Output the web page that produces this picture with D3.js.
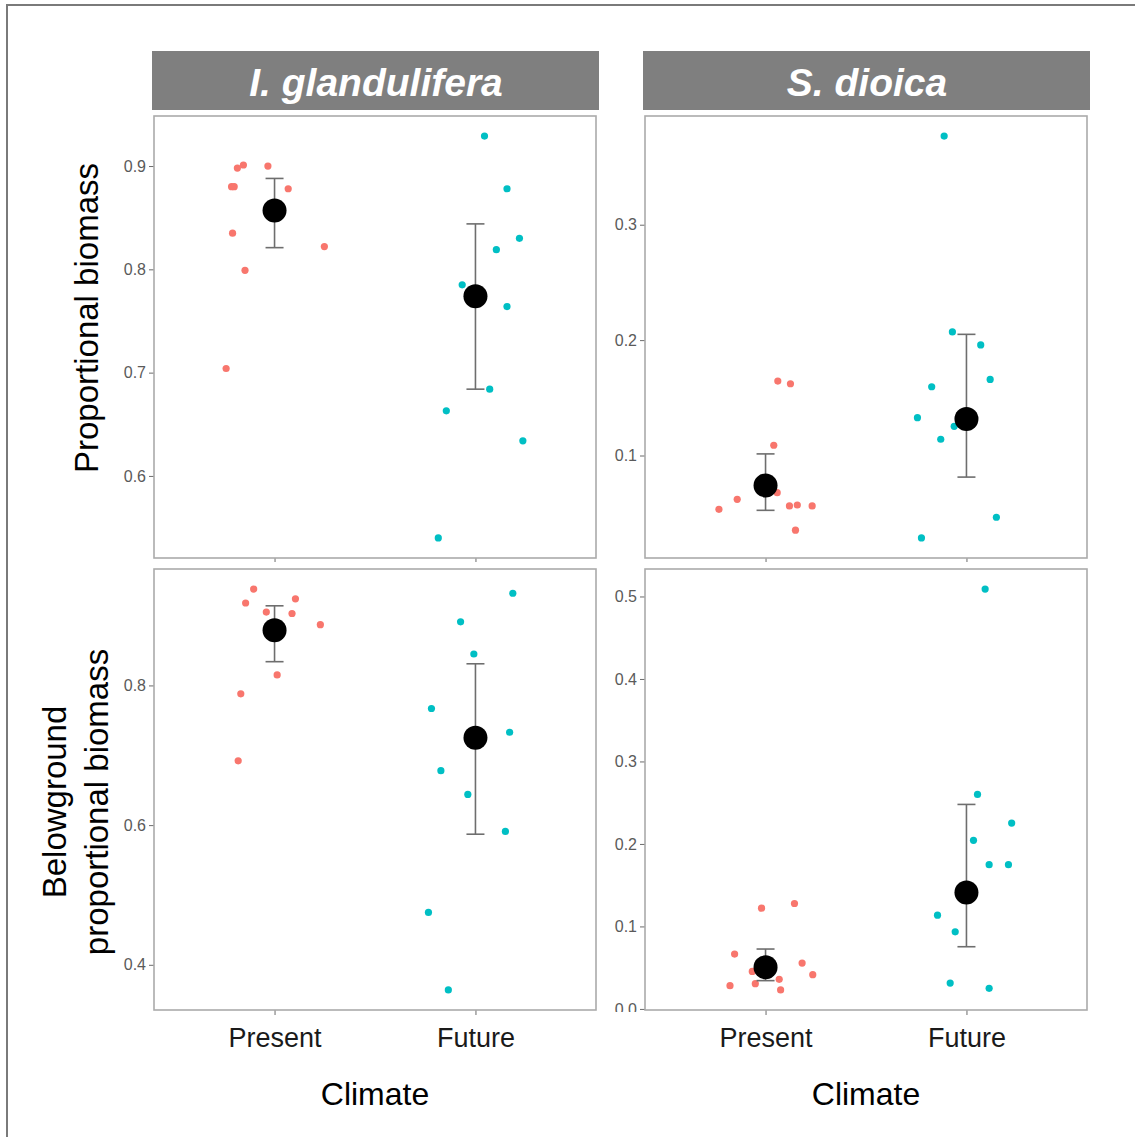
<!DOCTYPE html>
<html>
<head>
<meta charset="utf-8">
<script src="https://cdn.jsdelivr.net/npm/d3@7"></script>
<style>
  html, body { margin: 0; padding: 0; background: #ffffff; }
  svg { display: block; }
</style>
</head>
<body>
<svg id="chart" width="1135" height="1137"></svg>
<script>
// ---- data ----------------------------------------------------------------
const species = ["I. glandulifera", "S. dioica"];
const climates = ["Present", "Future"];
const rowTitles = [["Proportional biomass"], ["Belowground", "proportional biomass"]];

// I. glandulifera, proportional biomass
const glandPropPresent = [0.898, 0.901, 0.880, 0.880, 0.900, 0.878, 0.835, 0.822, 0.799, 0.704];
const glandPropPresentJitter = [-0.185, -0.155, -0.214, -0.201, -0.033, 0.068, -0.209, 0.248, -0.147, -0.241];
const glandPropFuture = [0.929, 0.878, 0.830, 0.819, 0.785, 0.764, 0.684, 0.663, 0.634, 0.540];
const glandPropFutureJitter = [0.045, 0.157, 0.219, 0.104, -0.066, 0.157, 0.071, -0.145, 0.236, -0.185];
const glandPropSummary = [[0.857, 0.821, 0.888], [0.774, 0.684, 0.844]]; // mean, lower, upper
const glandPropTicks = [0.6, 0.7, 0.8, 0.9];

// S. dioica, proportional biomass
const dioicaPropPresent = [0.1645, 0.1622, 0.1089, 0.0620, 0.0678, 0.0534, 0.0563, 0.0571, 0.0563, 0.0353];
const dioicaPropPresentJitter = [0.061, 0.124, 0.041, -0.141, 0.058, -0.232, 0.119, 0.158, 0.232, 0.149];
const dioicaPropFuture = [0.3768, 0.2071, 0.1958, 0.1596, 0.1659, 0.1328, 0.1253, 0.1141, 0.0465, 0.0286];
const dioicaPropFutureJitter = [-0.111, -0.070, 0.071, -0.173, 0.118, -0.244, -0.061, -0.128, 0.149, -0.224];
const dioicaPropSummary = [[0.0741, 0.0525, 0.1014], [0.1317, 0.0813, 0.2050]];
const dioicaPropTicks = [0.1, 0.2, 0.3];

// I. glandulifera, belowground proportional biomass
const glandBelowPresent = [0.938, 0.918, 0.924, 0.905, 0.903, 0.887, 0.815, 0.788, 0.692];
const glandBelowPresentJitter = [-0.104, -0.144, 0.104, -0.041, 0.087, 0.228, 0.013, -0.168, -0.181];
const glandBelowFuture = [0.932, 0.891, 0.845, 0.767, 0.733, 0.678, 0.644, 0.591, 0.475, 0.364];
const glandBelowFutureJitter = [0.186, -0.074, -0.008, -0.219, 0.170, -0.172, -0.038, 0.149, -0.234, -0.135];
const glandBelowSummary = [[0.879, 0.834, 0.914], [0.725, 0.587, 0.831]];
const glandBelowTicks = [0.4, 0.6, 0.8];

// S. dioica, belowground proportional biomass
const dioicaBelowPresent = [0.1221, 0.1278, 0.0665, 0.0556, 0.0455, 0.0415, 0.0359, 0.0282, 0.0306, 0.0230];
const dioicaBelowPresentJitter = [-0.020, 0.144, -0.154, 0.182, -0.066, 0.235, 0.068, -0.177, -0.051, 0.075];
const dioicaBelowFuture = [0.509, 0.260, 0.2253, 0.2044, 0.1749, 0.1749, 0.1137, 0.0935, 0.0314, 0.0250];
const dioicaBelowFutureJitter = [0.093, 0.055, 0.225, 0.035, 0.113, 0.209, -0.144, -0.056, -0.081, 0.113];
const dioicaBelowSummary = [[0.0504, 0.0343, 0.0726], [0.1411, 0.0754, 0.2479]];
const dioicaBelowTicks = [0.0, 0.1, 0.2, 0.3, 0.4, 0.5];

const climateColors = ["#F8766D", "#00BFC4"];

// ---- panel table -----------------------------------------------------------
const panels = [
  { row: 0, col: 0, present: glandPropPresent, presentJ: glandPropPresentJitter,
    future: glandPropFuture, futureJ: glandPropFutureJitter, summary: glandPropSummary, ticks: glandPropTicks },
  { row: 0, col: 1, present: dioicaPropPresent, presentJ: dioicaPropPresentJitter,
    future: dioicaPropFuture, futureJ: dioicaPropFutureJitter, summary: dioicaPropSummary, ticks: dioicaPropTicks },
  { row: 1, col: 0, present: glandBelowPresent, presentJ: glandBelowPresentJitter,
    future: glandBelowFuture, futureJ: glandBelowFutureJitter, summary: glandBelowSummary, ticks: glandBelowTicks },
  { row: 1, col: 1, present: dioicaBelowPresent, presentJ: dioicaBelowPresentJitter,
    future: dioicaBelowFuture, futureJ: dioicaBelowFutureJitter, summary: dioicaBelowSummary, ticks: dioicaBelowTicks }
];

// ---- layout ----------------------------------------------------------------
const colX = [[154, 596], [645, 1087]];
const rowY = [[116, 558], [569, 1010]];
const stripY = [51, 110];

const svg = d3.select("#chart");
const FONT = "'Liberation Sans', Arial, sans-serif";

// outer frame
svg.append("rect")
  .attr("x", 7).attr("y", 5).attr("width", 1150).attr("height", 1150)
  .attr("fill", "none").attr("stroke", "#7a7a7a").attr("stroke-width", 2);

// strips with species names
species.forEach((name, c) => {
  const [x0, x1] = colX[c];
  svg.append("rect")
    .attr("x", x0 - 2).attr("y", stripY[0])
    .attr("width", x1 - x0 + 5).attr("height", stripY[1] - stripY[0])
    .attr("fill", "#7f7f7f");
  svg.append("text")
    .attr("x", (x0 + x1) / 2 + 1).attr("y", 96)
    .attr("text-anchor", "middle")
    .attr("font-family", FONT).attr("font-size", 39)
    .attr("font-weight", "bold").attr("font-style", "italic")
    .attr("fill", "#ffffff")
    .text(name);
});

const fmt = d3.format(".1f");

panels.forEach((p, i) => {
  const [x0, x1] = colX[p.col];
  const [y0, y1] = rowY[p.row];

  // y domain: data and interval extents, expanded by 5% like the default continuous scale
  const all = p.present.concat(p.future, p.summary.flat());
  const [lo, hi] = d3.extent(all);
  const pad = (hi - lo) * 0.05;
  const y = d3.scaleLinear().domain([lo - pad, hi + pad]).range([y1, y0]);

  // discrete x positions 1 and 2 with 0.6 expansion on each side
  const x = d3.scaleLinear().domain([0.4, 2.6]).range([x0, x1]);
  const xBand = d3.scalePoint().domain(climates).range([x(1), x(2)]);

  const g = svg.append("g");

  // clip region for the y axis (local coordinates of the translated axis group)
  const clipId = "yclip" + i;
  svg.append("clipPath").attr("id", clipId)
    .append("rect").attr("x", -80).attr("y", y0 - 12).attr("width", 82).attr("height", y1 - y0 + 14);

  // y axis
  const yAxis = g.append("g")
    .attr("transform", `translate(${x0},0)`)
    .attr("clip-path", `url(#${clipId})`)
    .call(d3.axisLeft(y).tickValues(p.ticks).tickFormat(fmt).tickSize(5).tickPadding(3));
  yAxis.select(".domain").remove();
  yAxis.selectAll("line").attr("stroke", "#6b6b6b").attr("stroke-width", 1);
  yAxis.selectAll("text").attr("fill", "#5a5a5a").attr("font-family", FONT).attr("font-size", 16);

  // x axis
  const xAxis = g.append("g")
    .attr("transform", `translate(0,${y1})`)
    .call(d3.axisBottom(xBand).tickSize(p.row === 1 ? 5 : 4).tickPadding(13));
  xAxis.select(".domain").remove();
  xAxis.selectAll("line").attr("stroke", "#6b6b6b").attr("stroke-width", 1);
  xAxis.selectAll("text")
    .attr("fill", "#1a1a1a").attr("font-family", FONT).attr("font-size", 27)
    .style("display", p.row === 1 ? null : "none");

  // raw observations
  const obs = [];
  p.present.forEach((v, k) => obs.push({ c: 0, v, j: p.presentJ[k] }));
  p.future.forEach((v, k) => obs.push({ c: 1, v, j: p.futureJ[k] }));
  g.append("g").selectAll("circle").data(obs).join("circle")
    .attr("cx", d => x(d.c + 1 + d.j))
    .attr("cy", d => y(d.v))
    .attr("r", 3.6)
    .attr("fill", d => climateColors[d.c]);

  // interval bars
  const sum = p.summary.map((s, c) => ({ c, mean: s[0], low: s[1], high: s[2] }));
  const eb = g.append("g").attr("stroke", "#6e6e6e").attr("stroke-width", 1.6).attr("fill", "none");
  eb.selectAll("line.v").data(sum).join("line").attr("class", "v")
    .attr("x1", d => xBand(climates[d.c])).attr("x2", d => xBand(climates[d.c]))
    .attr("y1", d => y(d.low)).attr("y2", d => y(d.high));
  eb.selectAll("line.top").data(sum).join("line").attr("class", "top")
    .attr("x1", d => xBand(climates[d.c]) - 9).attr("x2", d => xBand(climates[d.c]) + 9)
    .attr("y1", d => y(d.high)).attr("y2", d => y(d.high));
  eb.selectAll("line.bot").data(sum).join("line").attr("class", "bot")
    .attr("x1", d => xBand(climates[d.c]) - 9).attr("x2", d => xBand(climates[d.c]) + 9)
    .attr("y1", d => y(d.low)).attr("y2", d => y(d.low));

  // means
  g.append("g").selectAll("circle").data(sum).join("circle")
    .attr("cx", d => xBand(climates[d.c]))
    .attr("cy", d => y(d.mean))
    .attr("r", 12)
    .attr("fill", "#000000");

  // panel border
  g.append("rect")
    .attr("x", x0).attr("y", y0).attr("width", x1 - x0).attr("height", y1 - y0)
    .attr("fill", "none").attr("stroke", "#ababab").attr("stroke-width", 1.6);
});

// x axis titles
colX.forEach(([x0, x1]) => {
  svg.append("text")
    .attr("x", (x0 + x1) / 2).attr("y", 1105)
    .attr("text-anchor", "middle")
    .attr("font-family", FONT).attr("font-size", 32)
    .attr("fill", "#000000")
    .text("Climate");
});

// y axis titles
const rowTitleCenter = [318, 802];
rowTitles.forEach((lines, r) => {
  const t = svg.append("text")
    .attr("transform", `translate(0,${rowTitleCenter[r]}) rotate(-90)`)
    .attr("text-anchor", "middle")
    .attr("font-family", FONT).attr("font-size", 33)
    .attr("fill", "#000000");
  const baselines = lines.length === 1 ? [98] : [66, 108];
  lines.forEach((line, k) => {
    t.append("tspan").attr("x", 0).attr("y", baselines[k]).text(line);
  });
});
</script>
</body>
</html>
